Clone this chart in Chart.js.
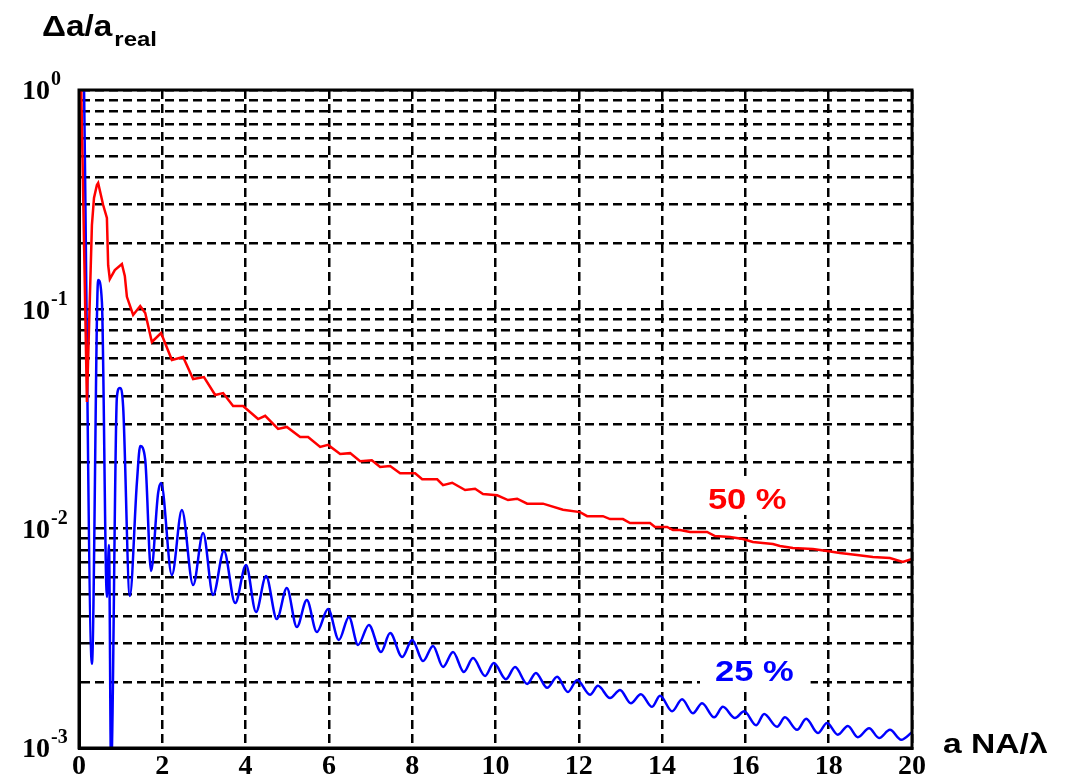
<!DOCTYPE html>
<html>
<head>
<meta charset="utf-8">
<title>Relative error vs a NA/λ</title>
<script src="https://cdn.jsdelivr.net/npm/chart.js@4.4.1/dist/chart.umd.min.js"></script>
<style>
  html, body { margin: 0; padding: 0; background: #fff; }
  #wrap { width: 1066px; height: 781px; }
</style>
</head>
<body>
<div id="wrap"><canvas id="chart" width="1066" height="781"></canvas></div>
<script>
// 50 % threshold curve
const redX = [
  0.05, 0.19, 0.31, 0.36, 0.43, 0.46, 0.58, 0.67, 0.70, 0.74,
  0.86, 1.03, 1.10, 1.15, 1.30, 1.47, 1.59, 1.75, 1.97, 2.23,
  2.50, 2.74, 3.00, 3.27, 3.46, 3.70, 3.94, 4.30, 4.47, 4.78,
  4.99, 5.31, 5.50, 5.79, 5.98, 6.27, 6.51, 6.75, 7.03, 7.23,
  7.47, 7.71, 8.07, 8.24, 8.60, 8.74, 8.96, 9.27, 9.51, 9.70,
  10.04, 10.30, 10.52, 10.76, 11.14, 11.62, 12.03, 12.20, 12.58, 12.75,
  13.06, 13.23, 13.71, 13.83, 14.12, 14.26, 14.43, 14.67, 15.08, 15.27,
  15.63, 15.94, 16.18, 16.66, 16.83, 17.14, 17.62, 17.96, 18.27, 18.68,
  19.06, 19.47, 19.78, 20.00
];
const redY = [
  1.11, 0.0378, 0.242, 0.322, 0.369, 0.377, 0.299, 0.261, 0.159, 0.1375,
  0.151, 0.161, 0.142, 0.114, 0.0942, 0.1035, 0.0962, 0.0710, 0.0780, 0.0587,
  0.0606, 0.0481, 0.0491, 0.0407, 0.0415, 0.0362, 0.0362, 0.0316, 0.0327, 0.0285,
  0.0291, 0.0262, 0.0262, 0.0236, 0.0241, 0.0219, 0.0221, 0.0203, 0.0205, 0.0191,
  0.0193, 0.0179, 0.0179, 0.0168, 0.0168, 0.0158, 0.0162, 0.0150, 0.0152, 0.0144,
  0.0142, 0.0135, 0.0137, 0.0130, 0.0130, 0.0122, 0.0119, 0.0114, 0.0114, 0.01106,
  0.01106, 0.0106, 0.0106, 0.01018, 0.01018, 0.00986, 0.00986, 0.00966, 0.00966, 0.00925,
  0.00916, 0.00897, 0.00869, 0.00851, 0.00834, 0.00817, 0.00808, 0.00791, 0.00774, 0.00758,
  0.00743, 0.00735, 0.00705, 0.00727
];

// 25 % threshold curve
const blueX = [
  0.12, 0.31, 0.46, 0.55, 0.67, 0.72, 0.77, 0.91, 0.98, 1.06,
  1.22, 1.39, 1.47, 1.59, 1.73, 1.90, 1.97, 2.23, 2.47, 2.74,
  2.98, 3.22, 3.48, 3.75, 4.01, 4.25, 4.49, 4.75, 4.99, 5.23,
  5.47, 5.71, 5.98, 6.24, 6.48, 6.70, 6.96, 7.25, 7.47, 7.76,
  8.00, 8.26, 8.50, 8.74, 8.98, 9.24, 9.46, 9.75, 9.96, 10.25,
  10.47, 10.76, 10.97, 11.24, 11.48, 11.74, 11.96, 12.27, 12.46, 12.75,
  12.99, 13.25, 13.49, 13.76, 13.95, 14.24, 14.48, 14.74, 14.96, 15.25,
  15.46, 15.75, 15.97, 16.26, 16.45, 16.76, 16.95, 17.24, 17.46, 17.74,
  17.96, 18.22, 18.46, 18.70, 18.97, 19.21, 19.47, 19.74, 20.00
];
const blueY = [
  1.054, 0.00242, 0.136, 0.108, 0.00488, 0.00842, 0.00079, 0.0398, 0.0438, 0.0359,
  0.00493, 0.0162, 0.0238, 0.0206, 0.00641, 0.01455, 0.01615, 0.00615, 0.01216, 0.00553,
  0.00955, 0.00499, 0.00791, 0.00458, 0.00683, 0.00417, 0.00608, 0.00387, 0.00536, 0.00356,
  0.00473, 0.00338, 0.00430, 0.00311, 0.00396, 0.00295, 0.00364, 0.00274, 0.00334, 0.00260,
  0.00311, 0.00249, 0.00292, 0.00234, 0.00274, 0.00222, 0.00257, 0.00213, 0.00244, 0.00206,
  0.00234, 0.00196, 0.00220, 0.00188, 0.00211, 0.00180, 0.00204, 0.00175, 0.00192, 0.00169,
  0.00184, 0.00160, 0.00176, 0.00154, 0.00173, 0.00147, 0.00167, 0.00144, 0.00160, 0.00138,
  0.00154, 0.00137, 0.00147, 0.00127, 0.00143, 0.00125, 0.00138, 0.00121, 0.00136, 0.00117,
  0.00130, 0.00115, 0.00126, 0.00112, 0.00123, 0.00111, 0.00121, 0.00109, 0.00118
];

const xTickValues = [0, 2, 4, 6, 8, 10, 12, 14, 16, 18, 20];
const yDecades = [0, -1, -2, -3];
const yMantissas = [1, 2, 3, 4, 5, 6, 7, 8, 9];
const seriesNames = ["50 %", "25 %"];

const SERIF = '"Liberation Serif", "Times New Roman", serif';
const SANS = '"Liberation Sans", Arial, sans-serif';

const pts = (xs, ys) => xs.map((x, i) => ({ x, y: ys[i] }));

// one grid line per 1..9 step of every decade between 1e-3 and 1
const yGridValues = [];
yDecades.slice().reverse().forEach((e) => {
  yMantissas.forEach((m) => {
    const v = m * Math.pow(10, e);
    if (v <= 1) yGridValues.push(v);
  });
});

// labels sit at these data coordinates (left edge / baseline)
const curveLabels = [
  { text: seriesNames[0], color: "#ff0000", x: 15.1, y: 0.0123 },
  { text: seriesNames[1], color: "#0000ff", x: 15.27, y: 0.00202 },
];

// text is a bit wider than the stock font, so stretch it horizontally
function wideText(ctx, text, x, y, font, sx) {
  ctx.save();
  ctx.font = font;
  ctx.translate(x, y);
  ctx.scale(sx, 1);
  ctx.fillText(text, 0, 0);
  const w = ctx.measureText(text).width * sx;
  ctx.restore();
  return w;
}

const decorations = {
  id: "decorations",
  beforeDatasetsDraw(chart) {
    const { ctx, scales: { x, y } } = chart;
    ctx.save();
    ctx.textAlign = "left";
    ctx.textBaseline = "alphabetic";
    curveLabels.forEach((l) => {
      const px = x.getPixelForValue(l.x);
      const py = y.getPixelForValue(l.y);
      const font = "bold 30px " + SANS;
      ctx.font = font;
      const w = ctx.measureText(l.text).width * 1.15;
      ctx.fillStyle = "#fff";
      ctx.fillRect(px - 15, py - 33, w + 32, 39);
      ctx.fillStyle = l.color;
      wideText(ctx, l.text, px, py, font, 1.15);
    });
    ctx.restore();
  },
  afterDraw(chart) {
    const { ctx, chartArea: a, scales: { y } } = chart;
    ctx.save();
    // frame
    ctx.strokeStyle = "#000";
    ctx.lineWidth = 3;
    ctx.strokeRect(a.left, a.top, a.right - a.left, a.bottom - a.top);

    // decade labels 10^n
    ctx.fillStyle = "#000";
    yDecades.forEach((e) => {
      const py = y.getPixelForValue(Math.pow(10, e));
      ctx.textBaseline = "middle";
      ctx.font = "bold 28px " + SERIF;
      ctx.textAlign = "right";
      ctx.fillText("10", a.left - 29, py + 2);
      ctx.font = "bold 20px " + SERIF;
      ctx.textAlign = "left";
      ctx.fillText(String(e), a.left - 28, py - 10);
    });

    // axis titles
    ctx.textAlign = "left";
    ctx.textBaseline = "alphabetic";
    const w = wideText(ctx, "\u0394a/a", 42, 36, "bold 29px " + SANS, 1.15);
    wideText(ctx, "real", 42 + w + 2, 46, "bold 20px " + SANS, 1.2);
    wideText(ctx, "a NA/\u03bb", a.right + 31, 753, "bold 28px " + SANS, 1.2);
    ctx.restore();
  },
};

const gridLine = { color: "#000", lineWidth: 2.5, drawTicks: false };
const gridBorder = { display: true, color: "#000", width: 3, dash: [9, 5] };

new Chart(document.getElementById("chart"), {
  type: "line",
  data: {
    datasets: [
      {
        label: seriesNames[0],
        data: pts(redX, redY),
        borderColor: "#ff0000",
        borderWidth: 2.5,
        pointRadius: 0,
        tension: 0,
        fill: false,
      },
      {
        label: seriesNames[1],
        data: pts(blueX, blueY),
        borderColor: "#0000ff",
        borderWidth: 2.5,
        pointRadius: 0,
        cubicInterpolationMode: "monotone",
        fill: false,
      },
    ],
  },
  options: {
    responsive: false,
    animation: false,
    devicePixelRatio: 1,
    events: [],
    layout: { padding: { top: 90, right: 154, bottom: 0, left: 0 } },
    plugins: { legend: { display: false }, tooltip: { enabled: false } },
    scales: {
      x: {
        type: "linear",
        min: 0,
        max: 20,
        afterBuildTicks: (s) => { s.ticks = xTickValues.map((v) => ({ value: v })); },
        afterFit: (s) => { s.height = 33; },
        grid: gridLine,
        border: gridBorder,
        ticks: {
          color: "#000",
          padding: 2,
          maxRotation: 0,
          font: { family: SERIF, size: 28, weight: "bold" },
        },
      },
      y: {
        type: "logarithmic",
        min: 0.001,
        max: 1,
        afterBuildTicks: (s) => { s.ticks = yGridValues.map((v) => ({ value: v })); },
        afterFit: (s) => { s.width = 79; },
        grid: gridLine,
        border: gridBorder,
        ticks: { display: false },
      },
    },
  },
  plugins: [decorations],
});
</script>
</body>
</html>
